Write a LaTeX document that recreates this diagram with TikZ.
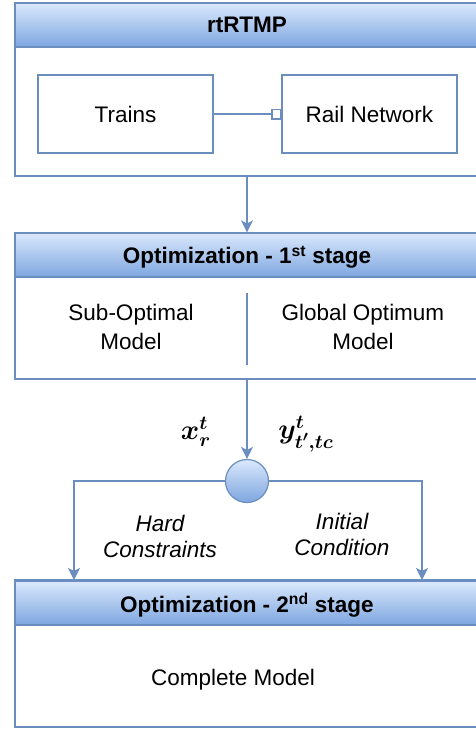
\documentclass[tikz,border=0pt]{standalone}
\usepackage{fontspec}
\setmainfont{Liberation Sans}
\usepackage{amsmath}
\usepackage{bm}
\usepackage{graphicx}
\definecolor{laneline}{HTML}{6C8EBF}
\definecolor{lanetop}{HTML}{DAE8FC}
\definecolor{lanebot}{HTML}{7EA6E0}
\usetikzlibrary{
  arrows.meta,
  shapes
}

\begin{document}
\begin{tikzpicture}[x=1pt, y=-1pt,
    line width=1.2pt,
  every node/.style = {align=center,
    font=\fontsize{22.5}{29}\selectfont},
  lane/.style = {draw=laneline, fill=white, minimum width=464pt},
  head/.style = {lane, top color=lanetop, bottom color=lanebot,
    minimum height=44pt, text depth=0pt,
    font=\fontsize{22.5}{29}\selectfont\bfseries},
  block/.style = {draw=laneline, fill=white,
    minimum width=175pt, minimum height=78pt},
  hub/.style = {circle, draw=laneline, top color=lanetop,
    bottom color=lanebot, minimum size=43pt, inner sep=0pt},
  flow/.style = {draw=laneline, -{Stealth[length=12pt, width=12pt, inset=3pt]}}]
  \useasboundingbox (0,0) rectangle (476,729);
  % first lane
  \node[lane, minimum height=173pt] (rtbody) at (247,89.5) {};
  \node[head] (rthead) at (247,25) {rtRTMP};
  \node[block] (trains) at (125.5,114) {Trains};
  \node[block] (rail) at (369.5,114) {Rail Network};
  \draw[draw=laneline, -{Square[open, length=10pt, width=11pt]}] (trains) -- (rail);
  % second lane
  \node[lane, minimum height=146pt] (firstbody) at (247,306) {};
  \node[head] (firsthead) at (247,255) {Optimization - 1\textsuperscript{st} stage};
  \coordinate (divtop) at (247,293);
  \coordinate (divbot) at (247,365);
  \draw[draw=laneline] (divtop) -- (divbot);
  \node (subopt) at (131,327) {Sub-Optimal\\Model};
  \node (globopt) at (363,327) {Global Optimum\\Model};
  \draw[flow] (rtbody) -- (firsthead);
  % split
  \node[hub] (merge) at (247,481) {};
  \draw[flow] (firstbody) -- (merge);
  \node (xlab) at (196,432) {\scalebox{1.35}{$\bm{x_r^t}$}};
  \node (ylab) at (306,434) {\scalebox{1.35}{$\bm{y^t_{t',tc}}$}};
  \coordinate (hardin) at (74,580);
  \coordinate (initin) at (422,580);
  \draw[flow] (merge) -| (hardin);
  \draw[flow] (merge) -| (initin);
  \node[font=\fontsize{22.5}{26}\selectfont\itshape] (hardlab) at (160,536) {Hard\\Constraints};
  \node[font=\fontsize{22.5}{26}\selectfont\itshape] (initlab) at (342,534) {Initial\\Condition};
  % third lane
  \node[lane, minimum height=147pt] (secondbody) at (247,653.5) {};
  \node[head] (secondhead) at (247,603) {Optimization - 2\textsuperscript{nd} stage};
  \node (complete) at (233,680) {Complete Model};
\end{tikzpicture}
\end{document}
